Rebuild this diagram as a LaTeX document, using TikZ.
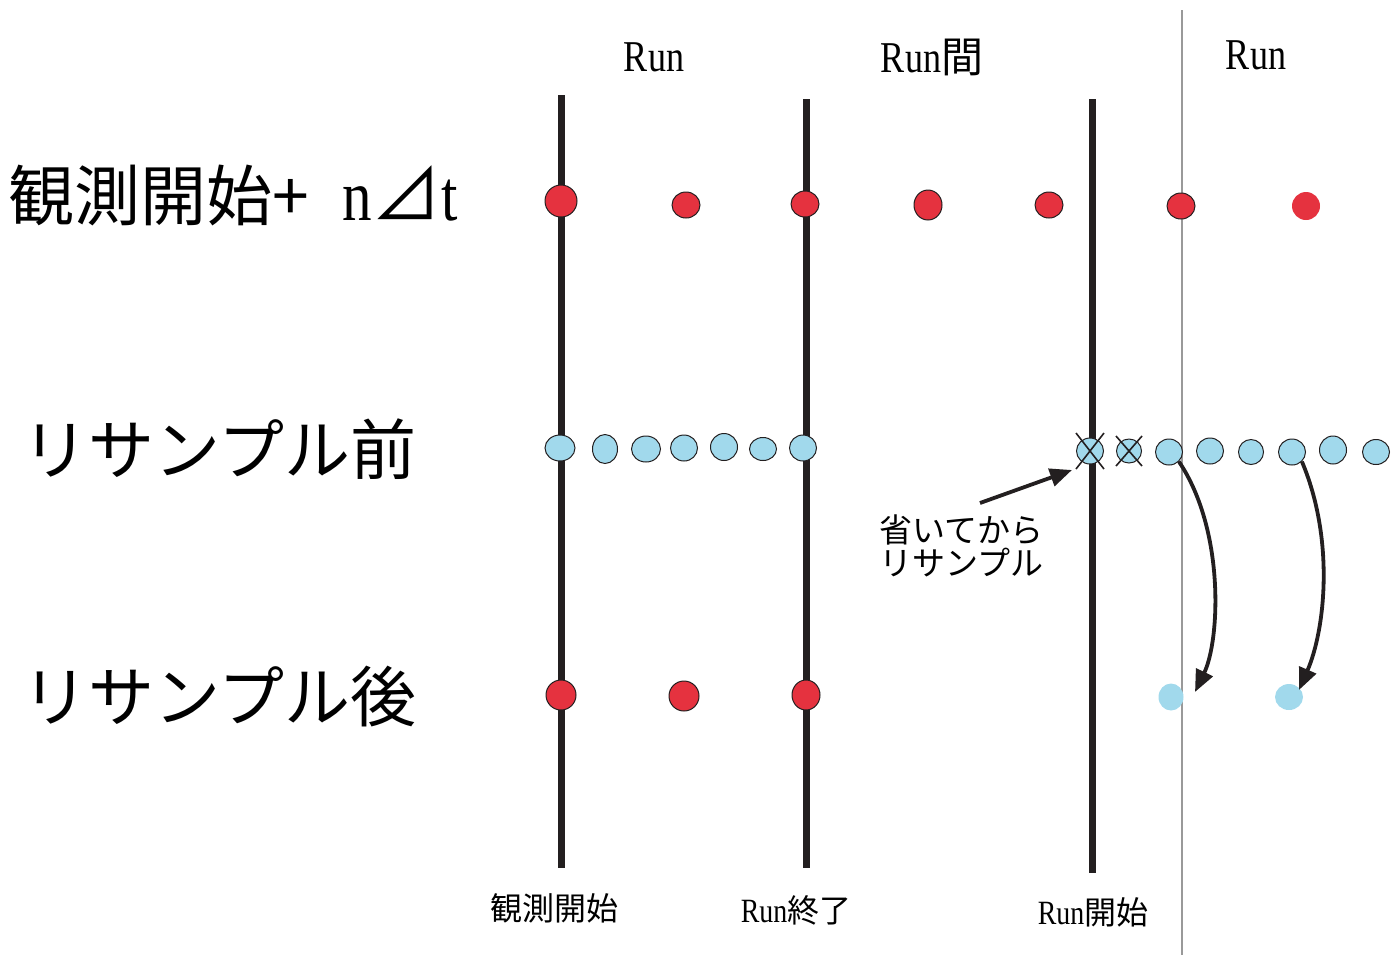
\documentclass[tikz,border=0pt]{standalone}
\usepackage{fontspec}
\setmainfont{Liberation Serif}
\newfontfamily\cjk{Noto Sans CJK JP}[Scale=1.0]
\newfontfamily\lat{Liberation Serif}[FakeStretch=0.82]
\usetikzlibrary{arrows.meta}
\definecolor{rd}{HTML}{E5323F}
\definecolor{bl}{HTML}{A1D9EC}
\definecolor{ln}{HTML}{231F20}
\tikzset{
  bar/.style={line width=3.5pt, draw=ln},
  reddot/.style={ellipse, fill=rd, draw=ln, line width=0.5pt, minimum width=14pt, minimum height=13pt, inner sep=0pt},
  redflat/.style={ellipse, fill=rd, minimum width=14pt, minimum height=14pt, inner sep=0pt},
  bluedot/.style={ellipse, fill=bl, draw=ln, line width=0.5pt, minimum width=13.5pt, minimum height=13pt, inner sep=0pt},
  blueflat/.style={ellipse, fill=bl, minimum width=13pt, minimum height=13pt, inner sep=0pt},
  crossln/.style={draw=ln, line width=0.8pt},
  arr/.style={draw=ln, line width=1.9pt, -{Triangle[length=11pt,width=9pt]}},
  biglbl/.style={anchor=west, inner sep=0pt, font=\cjk\fontsize{33}{38}\selectfont},
  toplbl/.style={inner sep=0pt, font=\lat\fontsize{22}{26}\selectfont},
  botlbl/.style={inner sep=0pt, font=\fontsize{16}{19}\selectfont},
}
\usetikzlibrary{shapes.geometric}
\begin{document}
\begin{tikzpicture}[x=0.5pt,y=-0.5pt]
\useasboundingbox (0,0) rectangle (1391,955);
% vertical bars
\coordinate (b1t) at (561,95); \coordinate (b1b) at (561,868);
\coordinate (b2t) at (806,99); \coordinate (b2b) at (806,868);
\coordinate (b3t) at (1092,99); \coordinate (b3b) at (1092,873);
\coordinate (gt) at (1182,10); \coordinate (gb) at (1182,955);
\draw[bar] (b1t) -- (b1b);
\draw[bar] (b2t) -- (b2b);
\draw[bar] (b3t) -- (b3b);
\draw[draw=gray!80, line width=0.9pt] (gt) -- (gb);
% top labels
\node[toplbl] (l1) at (654,57) {Run};
\node[toplbl] (l2) at (932,57) {Run{\cjk\fontsize{21}{26}\selectfont 間}};
\node[toplbl] (l3) at (1256,55) {Run};
% left labels
\node[biglbl] (L1) at (8,195) {観測開始+\hspace{0.5em}{\lat\fontsize{36}{36}\selectfont n}{\fontsize{35}{35}\selectfont ⊿}{\lat\fontsize{36}{36}\selectfont t}};
\node[biglbl] (L2) at (22,449) {リサンプル前};
\node[biglbl] (L3) at (22,697) {リサンプル後};
% row 1 red
\node[reddot, minimum width=16pt, minimum height=16pt] (r1) at (561,201) {};
\node[reddot] (r2) at (686,205) {};
\node[reddot] (r3) at (805,204) {};
\node[reddot, minimum height=15pt] (r4) at (928,205) {};
\node[reddot] (r5) at (1049,205) {};
\node[reddot] (r6) at (1181,206) {};
\node[redflat] (r7) at (1306,206) {};
% row 2 blue
\node[bluedot, minimum width=15pt] (c1) at (560,448) {};
\node[bluedot, minimum width=12.5pt, minimum height=14.5pt] (c2) at (605,449) {};
\node[bluedot, minimum width=14.5pt] (c3) at (646,449) {};
\node[bluedot] (c4) at (684,448) {};
\node[bluedot, minimum height=13.5pt] (c5) at (724,447) {};
\node[bluedot, minimum width=13.5pt, minimum height=11.5pt] (c6) at (763,449) {};
\node[bluedot] (c7) at (803,448) {};
\node[bluedot] (c8) at (1090,451) {};
\node[bluedot, minimum width=12.5pt, minimum height=12pt] (c9) at (1129,451) {};
\node[bluedot] (c10) at (1169,452) {};
\node[bluedot] (c11) at (1210,451) {};
\node[bluedot, minimum width=12.5pt, minimum height=12.5pt] (c12) at (1251,452) {};
\node[bluedot] (c13) at (1292,452) {};
\node[bluedot, minimum height=14pt] (c14) at (1333,450) {};
\node[bluedot, minimum height=12.5pt] (c15) at (1376,452) {};
% crosses
\draw[crossln] (1076,433) -- (1104,469);
\draw[crossln] (1104,433) -- (1076,469);
\draw[crossln] (1116,436) -- (1142,466);
\draw[crossln] (1142,436) -- (1116,466);
% row 3 red
\node[reddot, minimum width=15pt, minimum height=15pt] (s1) at (561,695) {};
\node[reddot, minimum width=15pt, minimum height=15pt] (s2) at (684,696) {};
\node[reddot, minimum height=15pt] (s3) at (806,695) {};
% row 3 blue
\node[blueflat, minimum width=12.5pt, minimum height=13.5pt] (t1) at (1171,697) {};
\node[blueflat, minimum width=14pt, minimum height=13pt] (t2) at (1289,697) {};
% curved arrows
\draw[arr] (c10.south east) .. controls (1225,530) and (1220,640) .. (1195,692);
\draw[arr] (c13.south east) .. controls (1335,540) and (1325,630) .. (1299,690);
% annotation
\node[inner sep=0pt, anchor=north west, align=left, font=\cjk\fontsize{16.5}{16.5}\selectfont] (ann) at (879,514) {省いてから\\リサンプル};
\coordinate (annstart) at (980,503);
\draw[arr] (annstart) -- (1072,470);
% bottom labels
\node[botlbl] (bl1) at (554,908) {\cjk 観測開始};
\node[botlbl] (bl2) at (796,910) {{\lat\fontsize{17}{19}\selectfont Run}{\cjk 終了}};
\node[botlbl] (bl3) at (1093,912) {{\lat\fontsize{17}{19}\selectfont Run}{\cjk 開始}};
\end{tikzpicture}
\end{document}
